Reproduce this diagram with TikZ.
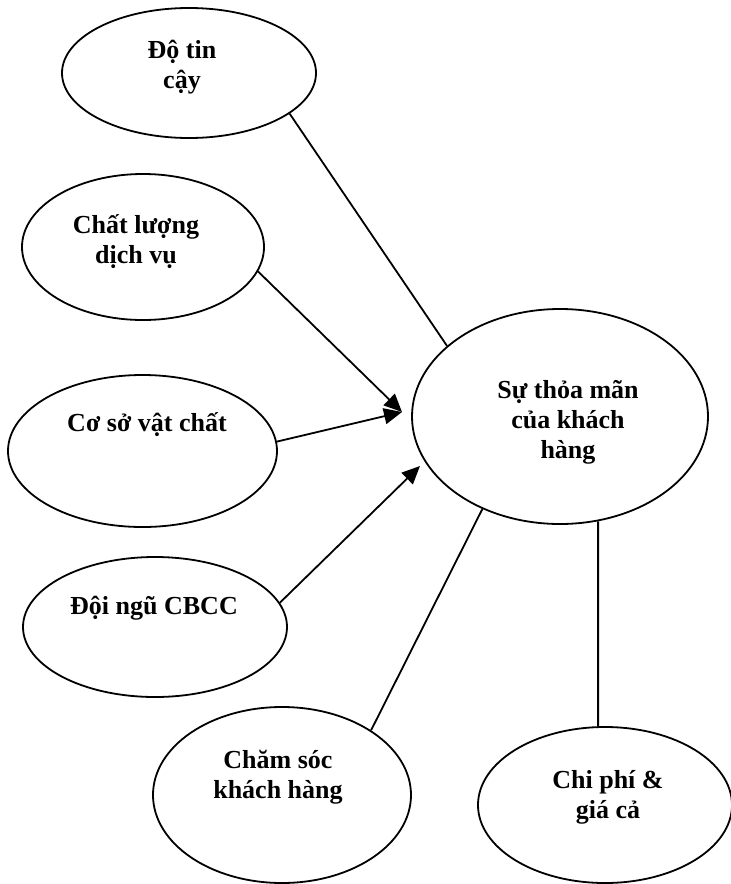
\documentclass[tikz,border=0pt]{standalone}
\usepackage{fontspec}
\setmainfont{Liberation Serif}
\usetikzlibrary{arrows.meta,shapes}

\begin{document}
\begin{tikzpicture}[x=0.5pt,y=-0.5pt,
    oval/.style={draw, line width=0.9pt, ellipse, inner sep=0pt},
    caption/.style={align=center, inner sep=0pt, font=\bfseries\fontsize{13}{15}\selectfont},
    link/.style={line width=0.9pt},
    arr/.style={link, -{Triangle[length=9pt,width=8pt]}}]
  \useasboundingbox (0,0) rectangle (731,884);

  % ellipses
  \node[oval, minimum width=127pt, minimum height=65pt] (tin) at (189,73) {};
  \node[oval, minimum width=121pt, minimum height=73pt] (dv) at (143,247) {};
  \node[oval, minimum width=134.5pt, minimum height=76pt] (csvc) at (142.5,451) {};
  \node[oval, minimum width=132pt, minimum height=70pt] (cb) at (155,627) {};
  \node[oval, minimum width=129pt, minimum height=88pt] (cs) at (282,795) {};
  \node[oval, minimum width=127pt, minimum height=78pt] (chi) at (605,805) {};
  \node[oval, minimum width=148pt, minimum height=107.5pt] (thoa) at (560,416.5) {};

  % texts
  \node[caption] (tin-t) at (182,67) {Độ tin\\cậy};
  \node[caption] (dv-t) at (136,242) {Chất lượng\\dịch vụ};
  \node[caption] (csvc-t) at (147,425) {Cơ sở vật chất};
  \node[caption] (cb-t) at (154,608) {Đội ngũ CBCC};
  \node[caption] (cs-t) at (278,777) {Chăm sóc\\khách hàng};
  \node[caption] (chi-t) at (608,797) {Chi phí \&\\giá cả};
  \node[caption] (thoa-t) at (568,422) {Sự thỏa mãn\\của khách\\hàng};

  % arrow tips
  \coordinate (tipA) at (402,412);
  \coordinate (tipB) at (420,466);

  % connectors
  \draw[link] (tin.-22) -- (thoa.148);
  \draw[arr] (dv.-12) -- (tipA);
  \draw[arr] (csvc.4) -- (tipA);
  \draw[arr] (cb.11.5) -- (tipB);
  \draw[link] (cs.36) -- (thoa.-130);
  \draw[link] (thoa.-70.6) -- (chi.95);
\end{tikzpicture}
\end{document}
